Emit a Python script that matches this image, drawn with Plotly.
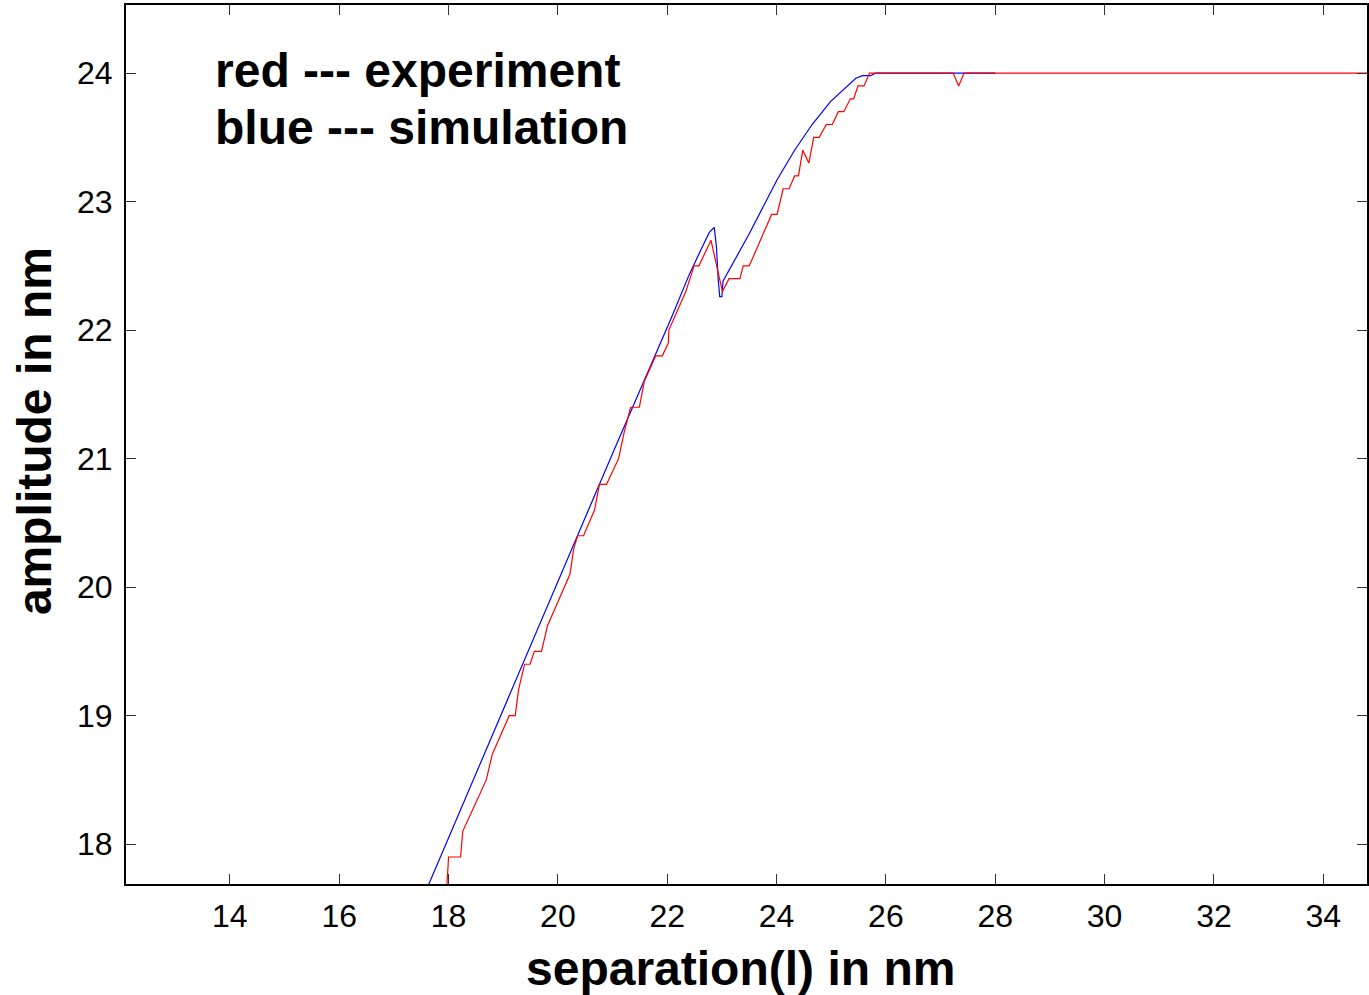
import plotly.graph_objects as go

# experiment (red)
exp_x = [17.96, 18.00, 18.22, 18.26, 18.69, 18.80, 19.11, 19.22, 19.28, 19.39, 19.49, 19.57,
         19.70, 19.81, 20.22, 20.29, 20.36, 20.47, 20.67, 20.76, 20.89, 21.11, 21.21, 21.33,
         21.49, 21.58, 21.79, 21.91, 22.02, 22.03, 22.34, 22.49, 22.58, 22.80, 23.01, 23.13,
         23.33, 23.39, 23.50, 23.91, 24.01, 24.12, 24.23, 24.33, 24.40, 24.48, 24.59, 24.68,
         24.78, 24.91, 25.02, 25.13, 25.23, 25.35, 25.41, 25.49, 25.60, 25.70, 27.23, 27.33,
         27.43, 35.00]
exp_y = [17.6, 17.9, 17.9, 18.1, 18.5, 18.7, 19.0, 19.0, 19.2, 19.4, 19.4, 19.5,
         19.5, 19.7, 20.1, 20.3, 20.4, 20.4, 20.6, 20.8, 20.8, 21.0, 21.2, 21.4,
         21.4, 21.6, 21.8, 21.8, 21.9, 22.0, 22.3, 22.5, 22.5, 22.7, 22.3, 22.4,
         22.4, 22.5, 22.5, 22.9, 22.9, 23.1, 23.1, 23.2, 23.2, 23.4, 23.3, 23.5,
         23.5, 23.6, 23.6, 23.7, 23.7, 23.8, 23.8, 23.9, 23.9, 24.0, 24.0, 23.9,
         24.0, 24.0]

# simulation (blue)
sim_x = [17.55, 17.64, 18.60, 18.86, 19.36, 20.27, 21.03, 22.07, 22.40, 22.61, 22.77, 22.86,
         22.90, 22.93, 22.96, 23.00, 23.02, 23.50, 23.68, 24.01, 24.33, 24.65, 24.99, 25.17,
         25.45, 25.57, 25.72, 25.81, 28.00]
sim_y = [17.60, 17.69, 18.65, 18.90, 19.41, 20.31, 21.07, 22.09, 22.43, 22.62, 22.76, 22.80,
         22.65, 22.41, 22.26, 22.26, 22.38, 22.75, 22.90, 23.17, 23.40, 23.60, 23.78, 23.85,
         23.96, 23.98, 23.98, 24.00, 24.00]

x_ticks = [14, 16, 18, 20, 22, 24, 26, 28, 30, 32, 34]
y_ticks = [18, 19, 20, 21, 22, 23, 24]

FONT = "Liberation Sans, Arial, sans-serif"

fig = go.Figure()
fig.add_trace(go.Scatter(x=sim_x, y=sim_y, mode="lines",
                         line=dict(color="#0000ff", width=1.2), showlegend=False))
fig.add_trace(go.Scatter(x=exp_x, y=exp_y, mode="lines",
                         line=dict(color="#ff0000", width=1.2), showlegend=False))

fig.update_layout(
    width=1369, height=995,
    margin=dict(l=126, r=0, t=5, b=111),
    paper_bgcolor="white", plot_bgcolor="white",
    font=dict(family=FONT, color="black"),
    showlegend=False,
)
fig.update_xaxes(
    range=[12.1, 34.8], tickvals=x_ticks, ticks="inside", ticklen=10, tickwidth=1,
    tickcolor="#333", showline=True, linecolor="black", linewidth=2, mirror="ticks",
    showgrid=False, zeroline=False, tickfont=dict(size=32), ticklabelstandoff=3,
)
fig.update_yaxes(
    range=[17.69, 24.53], tickvals=y_ticks, ticks="inside", ticklen=10, tickwidth=1,
    tickcolor="#333", showline=True, linecolor="black", linewidth=2, mirror="ticks",
    showgrid=False, zeroline=False, tickfont=dict(size=32), ticklabelstandoff=5,
)

# axis titles
fig.add_annotation(x=0.4948, y=-0.0956, xref="paper", yref="paper", xanchor="center",
                   yanchor="middle", showarrow=False, text="<b>separation(l) in nm</b>",
                   font=dict(size=48, color="black"))
fig.add_annotation(x=-0.0732, y=0.5154, xref="paper", yref="paper", xanchor="center",
                   yanchor="middle", showarrow=False, text="<b>amplitude in nm</b>",
                   textangle=-90, font=dict(size=48, color="black"))

# legend text
fig.add_annotation(x=0.070, y=0.926, xref="paper", yref="paper", xanchor="left",
                   yanchor="middle", showarrow=False, text="<b>red --- experiment</b>",
                   font=dict(size=48, color="black"))
fig.add_annotation(x=0.070, y=0.861, xref="paper", yref="paper", xanchor="left",
                   yanchor="middle", showarrow=False, text="<b>blue --- simulation</b>",
                   font=dict(size=48, color="black"))

fig.write_html("out.html")
